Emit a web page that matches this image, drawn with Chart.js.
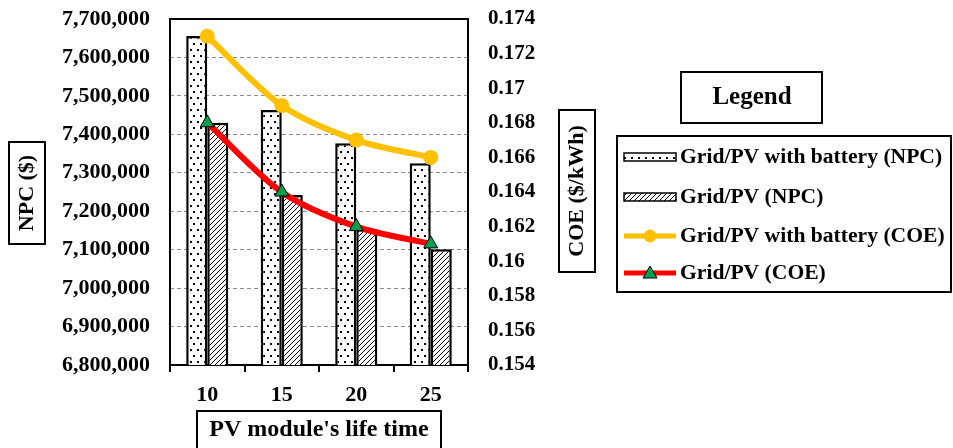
<!DOCTYPE html>
<html>
<head>
<meta charset="utf-8">
<script src="https://cdn.jsdelivr.net/npm/chart.js@4.4.0/dist/chart.umd.min.js"></script>
<style>
  html, body { margin: 0; padding: 0; background: #fff; }
  #wrap { width: 953px; height: 448px; position: relative; }
</style>
</head>
<body>
<div id="wrap"><canvas id="npcChart"></canvas></div>
<script>
// Data
const lifeTimes = ['10', '15', '20', '25'];
const npcWithBattery = [7656000, 7463000, 7377000, 7325000];
const npcGridPv = [7430000, 7242000, 7153000, 7101000];
const coeWithBattery = [0.173, 0.169, 0.167, 0.166];
const coeGridPv = [0.168, 0.164, 0.162, 0.161];

const npcMin = 6800000, npcMax = 7700000, npcStep = 100000;
const coeMin = 0.154, coeMax = 0.174, coeStep = 0.002;

const seriesNames = [
    'Grid/PV with battery (NPC)',
    'Grid/PV (NPC)',
    'Grid/PV with battery (COE)',
    'Grid/PV (COE)'
];

const SERIF = '"Times New Roman", "Liberation Serif", serif';
const YELLOW = '#FFC000';
const RED = '#FF0000';
const GREEN = '#00A050';

// Fill patterns for the bars
function dotPattern() {
    const c = document.createElement('canvas');
    c.width = 7; c.height = 12;
    const g = c.getContext('2d');
    g.fillStyle = '#fff';
    g.fillRect(0, 0, 7, 12);
    g.fillStyle = '#000';
    g.fillRect(1, 1, 2, 2);
    g.fillRect(4, 7, 2, 2);
    return g.createPattern(c, 'repeat');
}

function hatchPattern() {
    const c = document.createElement('canvas');
    c.width = 5; c.height = 5;
    const g = c.getContext('2d');
    g.fillStyle = '#fff';
    g.fillRect(0, 0, 5, 5);
    g.strokeStyle = '#000';
    g.lineWidth = 1;
    g.beginPath();
    g.moveTo(-1, 6); g.lineTo(6, -1);
    g.moveTo(-1, 1); g.lineTo(1, -1);
    g.moveTo(4, 6); g.lineTo(6, 4);
    g.stroke();
    return g.createPattern(c, 'repeat');
}

const dots = dotPattern();
const hatch = hatchPattern();

function boxedText(ctx, text, cx, cy, font, rot, box) {
    ctx.save();
    ctx.strokeStyle = '#000';
    ctx.lineWidth = 2;
    ctx.strokeRect(box[0], box[1], box[2], box[3]);
    ctx.translate(cx, cy);
    if (rot) ctx.rotate(-Math.PI / 2);
    ctx.font = font;
    ctx.fillStyle = '#000';
    ctx.textAlign = 'center';
    ctx.textBaseline = 'middle';
    ctx.fillText(text, 0, 0);
    ctx.restore();
}

// Frame, titles and the boxed legend
const decorations = {
    id: 'decorations',
    beforeDatasetsDraw(chart) {
        const { ctx, chartArea: a } = chart;
        ctx.save();
        ctx.strokeStyle = '#000';
        ctx.lineWidth = 2;
        ctx.strokeRect(a.left, a.top, a.right - a.left, a.bottom - a.top);
        ctx.restore();
    },
    afterDraw(chart) {
        const ctx = chart.ctx;
        boxedText(ctx, 'NPC ($)', 27, 193, 'bold 22px ' + SERIF, true, [9, 142, 36, 102]);
        boxedText(ctx, 'COE ($/kWh)', 577, 191, 'bold 22px ' + SERIF, true, [559, 110, 36, 162]);
        boxedText(ctx, "PV module's life time", 319, 430, 'bold 24px ' + SERIF, false, [197, 411, 244, 40]);
        boxedText(ctx, 'Legend', 752, 98, 'bold 25px ' + SERIF, false, [681, 72, 141, 51]);

        ctx.save();
        ctx.strokeStyle = '#000';
        ctx.lineWidth = 2;
        ctx.strokeRect(617, 136, 334, 156);
        const rows = [157, 197, 236, 273];
        rows.forEach((y, i) => {
            if (i < 2) {
                ctx.fillStyle = i === 0 ? dots : hatch;
                ctx.fillRect(624, y - 4, 52, 8);
                ctx.lineWidth = 1.5;
                ctx.strokeRect(624, y - 4, 52, 8);
            } else {
                ctx.strokeStyle = i === 2 ? YELLOW : RED;
                ctx.lineWidth = 5;
                ctx.beginPath();
                ctx.moveTo(624, y); ctx.lineTo(676, y);
                ctx.stroke();
                if (i === 2) {
                    ctx.fillStyle = YELLOW;
                    ctx.beginPath();
                    ctx.arc(650, y, 6.5, 0, Math.PI * 2);
                    ctx.fill();
                } else {
                    ctx.fillStyle = GREEN;
                    ctx.strokeStyle = '#000';
                    ctx.lineWidth = 1;
                    ctx.beginPath();
                    ctx.moveTo(650, y - 7); ctx.lineTo(657, y + 5); ctx.lineTo(643, y + 5);
                    ctx.closePath();
                    ctx.fill(); ctx.stroke();
                }
                ctx.strokeStyle = '#000';
            }
            ctx.save();
            ctx.translate(680, y);
            ctx.scale(1.08, 1);
            ctx.font = 'bold 20px ' + SERIF;
            ctx.fillStyle = '#000';
            ctx.textBaseline = 'middle';
            ctx.fillText(seriesNames[i], 0, 1);
            ctx.restore();
        });
        ctx.restore();
    }
};

// fixed sizes for the vertical scales, no extra label overflow padding
function fixWidth(w) {
    return s => {
        s.width = w;
        s.paddingTop = 0;
        s.paddingBottom = 0;
    };
}

const ctx = document.getElementById('npcChart');
new Chart(ctx.getContext('2d'), {
    data: {
        labels: lifeTimes,
        datasets: [{
            type: 'line',
            label: seriesNames[2],
            data: coeWithBattery,
            yAxisID: 'y1',
            order: 0,
            borderColor: YELLOW,
            borderWidth: 6,
            tension: 0.3,
            pointRadius: 7.5,
            pointBackgroundColor: YELLOW,
            pointBorderWidth: 0
        }, {
            type: 'line',
            label: seriesNames[3],
            data: coeGridPv,
            yAxisID: 'y1',
            order: 0,
            borderColor: RED,
            borderWidth: 6,
            tension: 0.3,
            pointStyle: 'triangle',
            pointRadius: 8,
            pointBackgroundColor: GREEN,
            pointBorderColor: '#000',
            pointBorderWidth: 1
        }, {
            type: 'bar',
            label: seriesNames[0],
            data: npcWithBattery,
            yAxisID: 'y',
            order: 1,
            backgroundColor: dots,
            borderColor: '#000',
            borderWidth: 2.5,
            categoryPercentage: 0.565,
            barPercentage: 1
        }, {
            type: 'bar',
            label: seriesNames[1],
            data: npcGridPv,
            yAxisID: 'y',
            order: 1,
            backgroundColor: hatch,
            borderColor: '#000',
            borderWidth: 2.5,
            categoryPercentage: 0.565,
            barPercentage: 1
        }]
    },
    options: {
        responsive: true,
        maintainAspectRatio: false,
        animation: false,
        layout: { padding: { top: 19, left: 0, right: 0, bottom: 0 } },
        plugins: {
            legend: { display: false },
            tooltip: { enabled: false }
        },
        scales: {
            x: {
                offset: true,
                grid: {
                    offset: true,
                    drawOnChartArea: false,
                    drawTicks: true,
                    tickLength: 7,
                    color: '#000',
                    lineWidth: 2
                },
                border: { display: false },
                ticks: {
                    color: '#000',
                    padding: 10,
                    font: { family: SERIF, size: 22, weight: 'bold' }
                },
                afterFit: s => {
                    s.height = 83;
                    s.paddingLeft = 0;
                    s.paddingRight = 0;
                }
            },
            y: {
                position: 'left',
                min: npcMin,
                max: npcMax,
                ticks: {
                    stepSize: npcStep,
                    color: '#000',
                    padding: 20,
                    font: { family: SERIF, size: 22, weight: 'bold' },
                    callback: v => v.toLocaleString('en-US')
                },
                grid: {
                    color: '#8a8a8a',
                    lineWidth: 1,
                    drawTicks: false
                },
                border: { display: false, dash: [4, 3] },
                afterFit: fixWidth(170)
            },
            y1: {
                position: 'right',
                min: coeMin,
                max: coeMax,
                ticks: {
                    stepSize: coeStep,
                    color: '#000',
                    padding: 20,
                    font: { family: SERIF, size: 21, weight: 'bold' },
                    callback: v => String(parseFloat(v.toFixed(3)))
                },
                grid: { drawOnChartArea: false, drawTicks: false },
                border: { display: false },
                afterFit: fixWidth(485)
            }
        }
    },
    plugins: [decorations]
});
</script>
</body>
</html>
